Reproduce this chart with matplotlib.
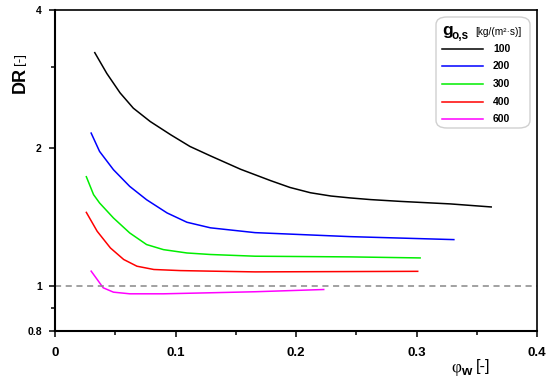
import numpy as np
import matplotlib
matplotlib.use('Agg')
import matplotlib.pyplot as plt
from matplotlib.patches import FancyBboxPatch
from matplotlib.lines import Line2D
from matplotlib.ticker import FixedLocator, NullFormatter

plt.rcParams['font.family'] = ['Liberation Sans', 'DejaVu Sans']

# data (phi_w, DR)
x_100 = [0.033, 0.043, 0.054, 0.065, 0.079, 0.096, 0.112, 0.129, 0.154,
         0.179, 0.195, 0.212, 0.229, 0.245, 0.262, 0.287, 0.328, 0.362]
dr_100 = [3.23, 2.91, 2.64, 2.445, 2.287, 2.14, 2.018, 1.925, 1.80,
          1.70, 1.643, 1.60, 1.574, 1.559, 1.546, 1.532, 1.513, 1.49]

x_200 = [0.030, 0.037, 0.0485, 0.062, 0.076, 0.093, 0.1095, 0.129, 0.166, 0.245, 0.331]
dr_200 = [2.158, 1.968, 1.796, 1.652, 1.545, 1.446, 1.38, 1.342, 1.31, 1.284, 1.265]

x_300 = [0.026, 0.032, 0.037, 0.0485, 0.062, 0.076, 0.090, 0.1095, 0.129, 0.166, 0.245, 0.303]
dr_300 = [1.734, 1.585, 1.52, 1.41, 1.308, 1.234, 1.203, 1.183, 1.174, 1.164, 1.16, 1.154]

x_400 = [0.026, 0.035, 0.046, 0.057, 0.068, 0.082, 0.104, 0.129, 0.166, 0.301]
dr_400 = [1.45, 1.319, 1.213, 1.145, 1.107, 1.089, 1.083, 1.080, 1.076, 1.079]

x_600 = [0.030, 0.035, 0.040, 0.0485, 0.062, 0.090, 0.129, 0.166, 0.223]
dr_600 = [1.080, 1.036, 0.9935, 0.972, 0.964, 0.964, 0.969, 0.974, 0.985]

labels = ['100', '200', '300', '400', '600']
colors = ['#000000', '#0000ff', '#00ee00', '#ff0000', '#ff00ff']
series = [(x_100, dr_100), (x_200, dr_200), (x_300, dr_300), (x_400, dr_400), (x_600, dr_600)]

W, H = 550, 382
fig = plt.figure(figsize=(W / 100, H / 100), dpi=100)
ax = fig.add_axes([55 / W, 1 - 331 / H, (537 - 55) / W, (331 - 10) / H])


def px(x, y):
    # pixel (top-left origin) -> figure fraction
    return x / W, 1 - y / H


for (xs, ys), c in zip(series, colors):
    ax.plot(xs, ys, color=c, lw=1.1, solid_joinstyle='round')

ax.axhline(1, color='#888888', lw=1.1, dashes=(4, 3))

ax.set_yscale('log', base=2)
ax.set_ylim(0.8, 4)
ax.set_xlim(0, 0.4)
ax.yaxis.set_major_locator(FixedLocator([0.8, 1, 2, 4]))
ax.set_yticklabels(['0.8', '1', '2', '4'])
ax.yaxis.set_minor_locator(FixedLocator([0.9, 3]))
ax.yaxis.set_minor_formatter(NullFormatter())
ax.set_xticks([0, 0.1, 0.2, 0.3, 0.4])
ax.set_xticklabels(['0', '0.1', '0.2', '0.3', '0.4'])
ax.xaxis.set_minor_locator(FixedLocator([0.05, 0.15, 0.25, 0.35]))

for side in ['left', 'bottom']:
    ax.spines[side].set_linewidth(1.5)
for side in ['top', 'right']:
    ax.spines[side].set_linewidth(1.2)

ax.tick_params(axis='x', which='major', length=4.5, width=1.1, pad=7, labelsize=9.5)
ax.tick_params(axis='y', which='major', length=4.5, width=1.1, pad=5, labelsize=7.5)
ax.tick_params(which='minor', length=3, width=1.1)
for t in ax.get_xticklabels() + ax.get_yticklabels():
    t.set_fontweight('bold')

# y label
fig.text(*px(20, 93), 'DR', rotation=90, ha='center', va='bottom',
         fontsize=13, fontweight='bold')
fig.text(*px(20, 65), '[-]', rotation=90, ha='center', va='bottom', fontsize=9.5)

# x label
fig.text(*px(451, 368), 'φ', ha='left', va='center', fontsize=12.5,
         family=['Liberation Serif', 'DejaVu Serif'])
fig.text(*px(461, 372), 'w', ha='left', va='center', fontsize=9.5, fontweight='bold')
fig.text(*px(476, 367), '[-]', ha='left', va='center', fontsize=12)

# legend box
x0, y0 = px(436, 128)
x1, y1 = px(530, 17)
box = FancyBboxPatch((x0, y0), x1 - x0, y1 - y0, transform=fig.transFigure,
                     boxstyle='round,pad=0,rounding_size=0.02',
                     fc='white', ec='#d0d0d0', lw=1.0)
fig.add_artist(box)
fig.text(*px(442, 31), 'g', ha='left', va='center', fontsize=12.5, fontweight='bold')
fig.text(*px(451, 36), 'o,s', ha='left', va='center', fontsize=8.5, fontweight='bold')
fig.text(*px(475, 32), '[kg/(m²·s)]', ha='left', va='center', fontsize=7.3)
row_y = [49, 66, 84, 102, 119]
for lab, c, ry in zip(labels, colors, row_y):
    lx0, ly = px(442, ry)
    lx1, _ = px(483, ry)
    fig.add_artist(Line2D([lx0, lx1], [ly, ly], transform=fig.transFigure, color=c, lw=1.1))
    fig.text(*px(493, ry), lab, ha='left', va='center', fontsize=7.5, fontweight='bold')

fig.savefig('out.png', dpi=100)
